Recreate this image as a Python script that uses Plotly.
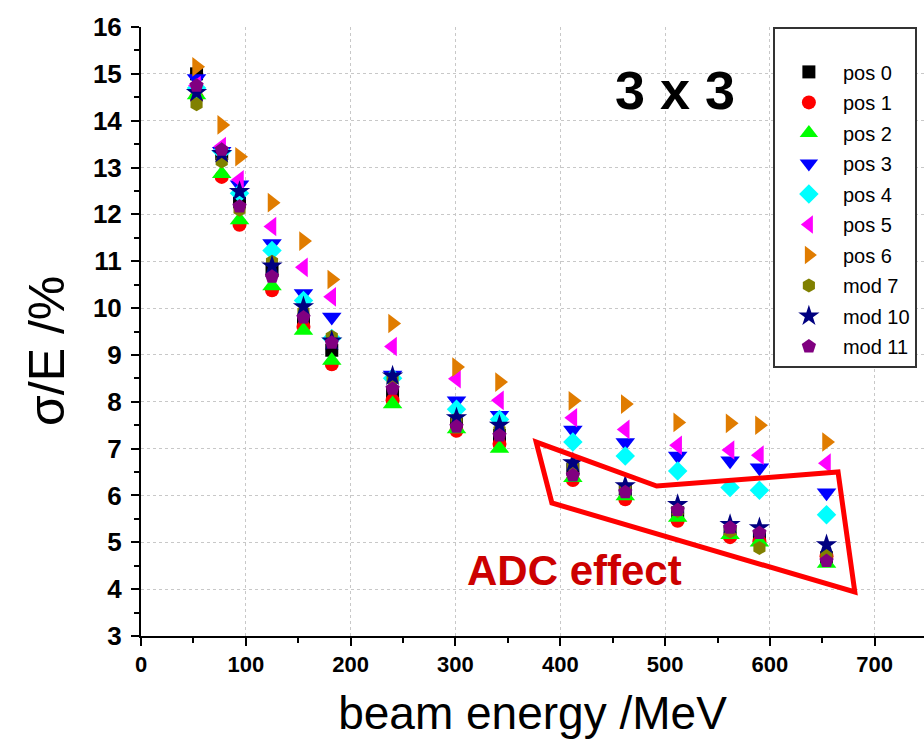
import plotly.graph_objects as go

energy = [53, 77, 94, 125, 155, 182, 240, 301, 342, 412, 462, 512, 562, 590, 654]

pos0 = [15.0, 13.3, 12.27, 10.8, 9.71, 9.1, 8.2, 7.52, 7.28, 6.56, 6.09, 5.63, 5.2, 5.13, 4.67]
pos1 = [14.5, 12.8, 11.78, 10.38, 9.6, 8.8, 8.03, 7.38, 7.1, 6.33, 5.92, 5.46, 5.11, 5.02, 4.7]
pos2 = [14.55, 12.87, 11.88, 10.47, 9.52, 8.88, 7.95, 7.42, 7.0, 6.38, 5.99, 5.53, 5.16, 5.0, 4.55]
pos3 = [14.9, 13.35, 12.63, 11.38, 10.31, 9.81, 8.57, 8.02, 7.71, 7.4, 7.13, 6.84, 6.74, 6.59, 6.06]
pos4 = [14.7, 13.35, 12.45, 11.23, 10.16, 9.35, 8.5, 7.84, 7.62, 7.14, 6.84, 6.52, 6.17, 6.11, 5.59]
pos5 = [14.75, 13.45, 12.74, 11.74, 10.87, 10.24, 9.18, 8.49, 8.03, 7.66, 7.41, 7.07, 6.97, 6.86, 6.69]
pos6 = [15.15, 13.91, 13.23, 12.25, 11.43, 10.61, 9.67, 8.74, 8.42, 8.02, 7.95, 7.56, 7.54, 7.5, 7.14]
mod7 = [14.35, 13.13, 12.1, 10.99, 9.92, 9.39, 8.47, 7.63, 7.39, 6.63, 6.16, 5.67, 5.23, 4.88, 4.74]
mod10 = [14.6, 13.3, 12.49, 10.9, 10.03, 9.3, 8.55, 7.66, 7.5, 6.7, 6.21, 5.81, 5.38, 5.31, 4.95]
mod11 = [14.75, 13.38, 12.17, 10.67, 9.8, 9.26, 8.28, 7.47, 7.28, 6.43, 6.07, 5.69, 5.31, 5.2, 4.6]

series_names = ["pos 0", "pos 1", "pos 2", "pos 3", "pos 4", "pos 5", "pos 6", "mod 7", "mod 10", "mod 11"]
series_values = [pos0, pos1, pos2, pos3, pos4, pos5, pos6, mod7, mod10, mod11]
symbols = ["square", "circle", "triangle-up", "triangle-down", "diamond",
           "triangle-left", "triangle-right", "hexagon", "star", "pentagon"]
colors = ["#000000", "#ff0000", "#00ff00", "#0000ff", "#00ffff",
          "#ff00ff", "#e07c00", "#808000", "#000080", "#800080"]
sizes = [13, 14, 17, 17, 15, 17, 17, 14, 16, 15]

# ADC effect outline (data coordinates)
adc_x = [377, 392, 681, 665, 492]
adc_y = [7.14, 5.84, 3.94, 6.50, 6.20]

y_ticks = list(range(3, 17))
x_ticks = list(range(0, 701, 100))

fig = go.Figure()
for i, (name, vals) in enumerate(zip(series_names, series_values)):
    fig.add_trace(go.Scatter(
        x=energy, y=vals, mode="markers", name=name, legendgroup=name,
        marker=dict(symbol=symbols[i], color=colors[i], size=sizes[i], line=dict(width=0)),
    ))

path = "M " + " L ".join(f"{x},{y}" for x, y in zip(adc_x, adc_y)) + " Z"
fig.add_shape(type="path", path=path, xref="x", yref="y",
              line=dict(color="#ff0000", width=5), fillcolor="rgba(0,0,0,0)")

fig.add_annotation(text="<b>3 x 3</b>", xref="paper", yref="paper", x=0.682, y=0.897,
                   xanchor="center", yanchor="middle",
                   showarrow=False, font=dict(size=54, color="black"))
fig.add_annotation(text="<b>ADC effect</b>", xref="paper", yref="paper", x=0.554, y=0.108,
                   xanchor="center", yanchor="middle",
                   showarrow=False, font=dict(size=42, color="#cc0000"))
fig.add_annotation(text="σ/E /%", xref="paper", yref="paper", x=-0.12, y=0.468,
                   xanchor="center", yanchor="middle", textangle=-90,
                   showarrow=False, font=dict(size=50, color="black"))

fig.update_layout(
    width=924, height=754,
    margin=dict(l=141, r=0, t=27, b=118),
    paper_bgcolor="white", plot_bgcolor="white",
    font=dict(family="Arial, Liberation Sans, sans-serif", color="black"),
    showlegend=True,
    legend=dict(
        x=0.807, y=1.0, xanchor="left", yanchor="top",
        bgcolor="white", bordercolor="#333333", borderwidth=2,
        font=dict(size=20, color="black"),
        itemwidth=58, tracegroupgap=1.5,
        title=dict(text=" ", font=dict(size=18)),
    ),
    xaxis=dict(
        range=[0, 747], tickvals=x_ticks, ticktext=[f"<b>{v}</b>" for v in x_ticks],
        showline=True, linecolor="black", linewidth=2,
        ticks="outside", ticklen=8, tickwidth=2, tickcolor="black",
        minor=dict(dtick=50, ticks="outside", ticklen=5, tickwidth=2, tickcolor="black", showgrid=False),
        showgrid=True, gridcolor="#c8c8c8", griddash="dot", gridwidth=1,
        zeroline=False, tickfont=dict(size=22, color="black"),
        title=dict(text="beam energy /MeV", font=dict(size=46, color="black"), standoff=20),
    ),
    yaxis=dict(
        range=[3, 16], tickvals=y_ticks, ticktext=[f"<b>{v}</b>" for v in y_ticks],
        showline=True, linecolor="black", linewidth=2,
        ticks="outside", ticklen=8, tickwidth=2, tickcolor="black",
        minor=dict(dtick=0.5, ticks="outside", ticklen=5, tickwidth=2, tickcolor="black", showgrid=False),
        showgrid=True, gridcolor="#c8c8c8", griddash="dot", gridwidth=1,
        zeroline=False, tickfont=dict(size=26, color="black"), ticklabelstandoff=4,
    ),
)

fig.write_html("out.html")
